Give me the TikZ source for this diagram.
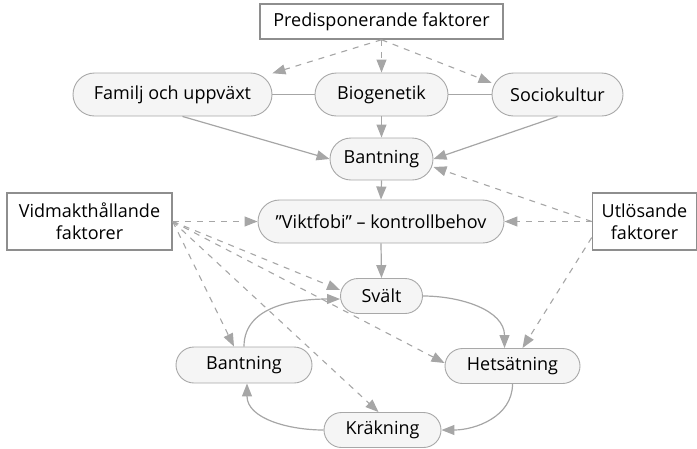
\documentclass[tikz,border=0pt]{standalone}
\usepackage{fontspec}
\setmainfont{Open Sans}
\usetikzlibrary{arrows.meta}
\definecolor{edge}{HTML}{A6A6A6}
\definecolor{bord}{HTML}{A8A8A8}
\definecolor{nodefill}{HTML}{F5F5F5}
\definecolor{boxbord}{HTML}{8E8E8E}
\begin{document}
\begin{tikzpicture}[x=1pt,y=-1pt,
  font=\fontsize{18}{22}\selectfont,
  pill/.style={draw=bord, fill=nodefill, inner sep=0pt, line width=0.9pt},
  factorbox/.style={draw=boxbord, fill=white, line width=1.5pt, inner sep=0pt, align=center},
  conn/.style={draw=edge, line width=1.2pt, -{Triangle[length=13pt,width=10pt]}},
  link/.style={draw=edge, line width=1.2pt},
  dconn/.style={conn, line width=1.1pt, dash pattern=on 6pt off 6pt},
]
\useasboundingbox (0,0) rectangle (697,448);

\node[factorbox, minimum width=243pt, minimum height=35pt] (pre) at (381.5,21.5) {Predisponerande faktorer};
\node[factorbox, minimum width=165pt, minimum height=57pt] (vid) at (89.5,221.5) {Vidmakthållande\\faktorer};
\node[factorbox, minimum width=104pt, minimum height=57pt] (utl) at (644.5,221.5) {Utlösande\\faktorer};

\node[pill, minimum width=199pt, minimum height=43pt, rounded corners=21.5pt] (fam) at (172.5,94.5) {Familj och uppväxt};
\node[pill, minimum width=133pt, minimum height=43pt, rounded corners=21.5pt] (bio) at (381.5,94.5) {Biogenetik};
\node[pill, minimum width=131pt, minimum height=43pt, rounded corners=21.5pt] (soc) at (557.5,94.5) {Sociokultur};
\node[pill, minimum width=103pt, minimum height=42pt, rounded corners=21pt] (ban1) at (381.5,159) {Bantning};
\node[pill, minimum width=246pt, minimum height=43pt, rounded corners=21.5pt] (vik) at (381,221.5) {”Viktfobi” – kontrollbehov};
\node[pill, minimum width=82pt, minimum height=35pt, rounded corners=17.5pt] (sva) at (381.5,296) {Svält};
\node[pill, minimum width=136pt, minimum height=36pt, rounded corners=18pt] (ban2) at (244,365) {Bantning};
\node[pill, minimum width=135pt, minimum height=35pt, rounded corners=17.5pt] (het) at (512.5,366) {Hetsätning};
\node[pill, minimum width=117pt, minimum height=35pt, rounded corners=17.5pt] (kra) at (382.5,430) {Kräkning};

% predisposing
\draw[dconn] (pre.south) -- (fam.12);
\draw[dconn] (pre.south) -- (bio.north);
\draw[dconn] (pre.south) -- (soc.170);
\draw[link] (fam.east) -- (bio.west);
\draw[link] (bio.east) -- (soc.west);
\draw[conn] ([xshift=10pt]fam.south) -- (ban1.west);
\draw[conn] (bio.south) -- (ban1.north);
\draw[conn] (soc.south) -- (ban1.east);
\draw[conn] (ban1.south) -- (vik.north);
\draw[conn] (vik.south) -- (sva.north);

% triggering
\draw[dconn] (utl.west) -- ([yshift=-8pt]ban1.east);
\draw[dconn] (utl.west) -- (vik.east);
\draw[dconn] ([yshift=-16pt]utl.west) -- ([xshift=10pt]het.north);

% maintaining
\draw[dconn] (vid.east) -- (vik.west);
\draw[dconn] (vid.east) -- ([yshift=6pt]sva.west);
\draw[dconn] (vid.east) -- ([xshift=-10pt]ban2.north);
\draw[dconn] (vid.east) -- ([yshift=3pt]het.west);
\draw[dconn] (vid.east) -- ([xshift=-4pt]kra.north);

% cycle
\draw[conn] (ban2.north) to[out=90,in=180] ([yshift=-3pt]sva.west);
\draw[conn] (sva.east) to[out=0,in=90] ([xshift=-8pt]het.north);
\draw[conn] (het.south) to[out=-90,in=0] (kra.east);
\draw[conn] (kra.west) to[out=180,in=-90] ([xshift=3pt]ban2.south);
\end{tikzpicture}
\end{document}
